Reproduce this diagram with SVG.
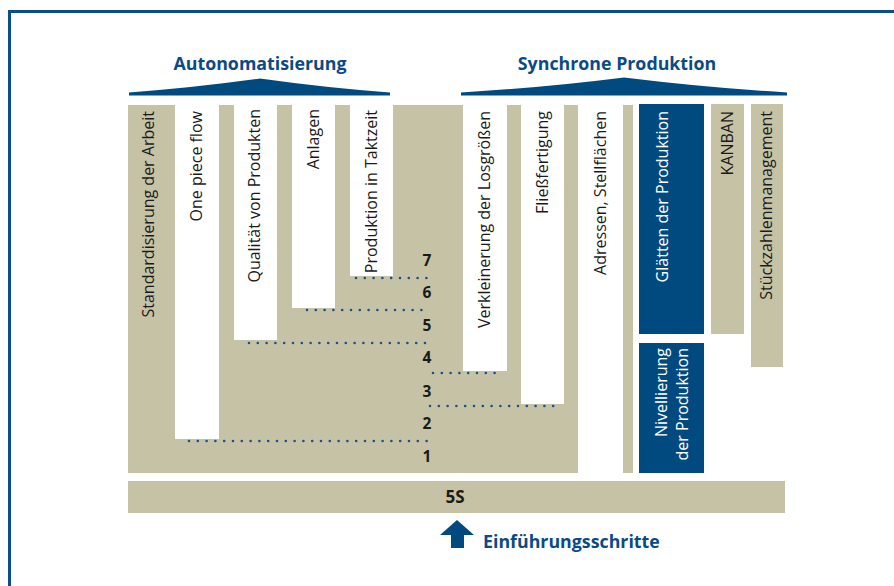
<svg xmlns="http://www.w3.org/2000/svg" width="894" height="586" viewBox="0 0 894 586">
  <style>
    .beige { fill: #c6c2a6; }
    .white { fill: #ffffff; }
    .blue { fill: #014a80; }
    .lbl { font-family: "Open Sans", "Liberation Sans", sans-serif; font-size: 16px; fill: #1a1a1a; text-anchor: end; }
    .lbl-w { font-family: "Open Sans", "Liberation Sans", sans-serif; font-size: 16px; fill: #ffffff; text-anchor: end; }
    .head { font-family: "Open Sans", "Liberation Sans", sans-serif; font-size: 17.8px; font-weight: bold; fill: #0b4a85; text-anchor: middle; }
    .num { font-family: "Open Sans", "Liberation Sans", sans-serif; font-size: 15.5px; font-weight: bold; fill: #1a1a1a; text-anchor: middle; }
    .dots { fill: none; stroke: #1b4f85; stroke-width: 2.6; stroke-linecap: round; stroke-dasharray: 0 8.8; }
  </style>

  <!-- outer frame -->
  <rect x="9.5" y="11.5" width="900" height="600" fill="#ffffff" stroke="#0c4e89" stroke-width="3"/>

  <!-- group headers -->
  <g id="autonomatisierung">
    <text class="head" x="260" y="70">Autonomatisierung</text>
    <path class="blue" d="M129,95.5 L129,92.5 Q196,87.5 260,78.5 Q324,87.5 390,92.5 L390,95.5 Z"/>
  </g>
  <g id="synchrone-produktion">
    <text class="head" x="617" y="70">Synchrone Produktion</text>
    <path class="blue" d="M461,95.5 L461,92.5 Q545,87.5 624,77.5 Q705,87.5 787,92.5 L787,95.5 Z"/>
  </g>

  <!-- common block holding the stepped columns -->
  <g id="base-block">
    <rect class="beige" x="128" y="105" width="450" height="368"/>
  </g>

  <g id="standardisierung">
    <text class="lbl" transform="translate(154,111) rotate(-90)">Standardisierung der Arbeit</text>
  </g>
  <g id="one-piece-flow">
    <rect class="white" x="175" y="105" width="44" height="334"/>
    <text class="lbl" transform="translate(202,111) rotate(-90)">One piece flow</text>
  </g>
  <g id="qualitaet">
    <rect class="white" x="234" y="105" width="43" height="235"/>
    <text class="lbl" transform="translate(260,109) rotate(-90)">Qualität von Produkten</text>
  </g>
  <g id="anlagen">
    <rect class="white" x="292" y="105" width="43" height="203"/>
    <text class="lbl" transform="translate(319,109) rotate(-90)">Anlagen</text>
  </g>
  <g id="taktzeit">
    <rect class="white" x="350" y="105" width="43" height="171"/>
    <text class="lbl" transform="translate(377,110) rotate(-90)">Produktion in Taktzeit</text>
  </g>
  <g id="losgroessen">
    <rect class="white" x="463" y="105" width="44" height="266"/>
    <text class="lbl" transform="translate(490,111) rotate(-90)">Verkleinerung der Losgrößen</text>
  </g>
  <g id="fliessfertigung">
    <rect class="white" x="521" y="105" width="43" height="299"/>
    <text class="lbl" transform="translate(548,111) rotate(-90)">Fließfertigung</text>
  </g>
  <g id="adressen">
    <text class="lbl" transform="translate(606,111) rotate(-90)">Adressen, Stellflächen</text>
  </g>
  <g id="adressen-bar">
    <rect class="beige" x="623" y="105" width="10" height="368"/>
  </g>
  <g id="glaetten">
    <rect class="blue" x="639" y="104" width="65" height="230"/>
    <text class="lbl-w" transform="translate(668,111) rotate(-90)">Glätten der Produktion</text>
  </g>
  <g id="nivellierung">
    <rect class="blue" x="639" y="343" width="65" height="130"/>
    <text class="lbl-w" transform="translate(667,348) rotate(-90)">Nivellierung</text>
    <text class="lbl-w" transform="translate(688,348) rotate(-90)">der Produktion</text>
  </g>
  <g id="kanban">
    <rect class="beige" x="711" y="104" width="33" height="230"/>
    <text class="lbl" transform="translate(733,111) rotate(-90)">KANBAN</text>
  </g>
  <g id="stueckzahlen">
    <rect class="beige" x="751" y="104" width="32" height="263"/>
    <text class="lbl" transform="translate(772,111) rotate(-90)">Stückzahlenmanagement</text>
  </g>

  <!-- step numbers -->
  <g id="steps">
    <text class="num" x="427" y="266">7</text>
    <text class="num" x="427" y="298">6</text>
    <text class="num" x="427" y="331">5</text>
    <text class="num" x="427" y="363">4</text>
    <text class="num" x="427" y="397">3</text>
    <text class="num" x="427" y="429">2</text>
    <text class="num" x="427" y="462">1</text>
  </g>

  <!-- dotted step lines -->
  <g id="connectors">
    <line class="dots" x1="356" y1="278" x2="430" y2="278"/>
    <line class="dots" x1="307" y1="310" x2="430" y2="310"/>
    <line class="dots" x1="249" y1="343" x2="430" y2="343"/>
    <line class="dots" x1="433" y1="373" x2="496" y2="373"/>
    <line class="dots" x1="430" y1="406" x2="556" y2="406"/>
    <line class="dots" x1="189" y1="441" x2="433" y2="441"/>
  </g>

  <!-- 5S foundation -->
  <g id="five-s">
    <rect class="beige" x="128" y="481" width="657" height="32"/>
    <text class="num" x="455" y="503" style="font-size:17px">5S</text>
  </g>

  <!-- introduction direction -->
  <g id="einfuehrung">
    <path class="blue" d="M457,520 L474,535 L464,535 L464,548 L451,548 L451,535 L440,535 Z"/>
    <text class="head" x="483" y="548" style="text-anchor:start">Einführungsschritte</text>
  </g>
</svg>
